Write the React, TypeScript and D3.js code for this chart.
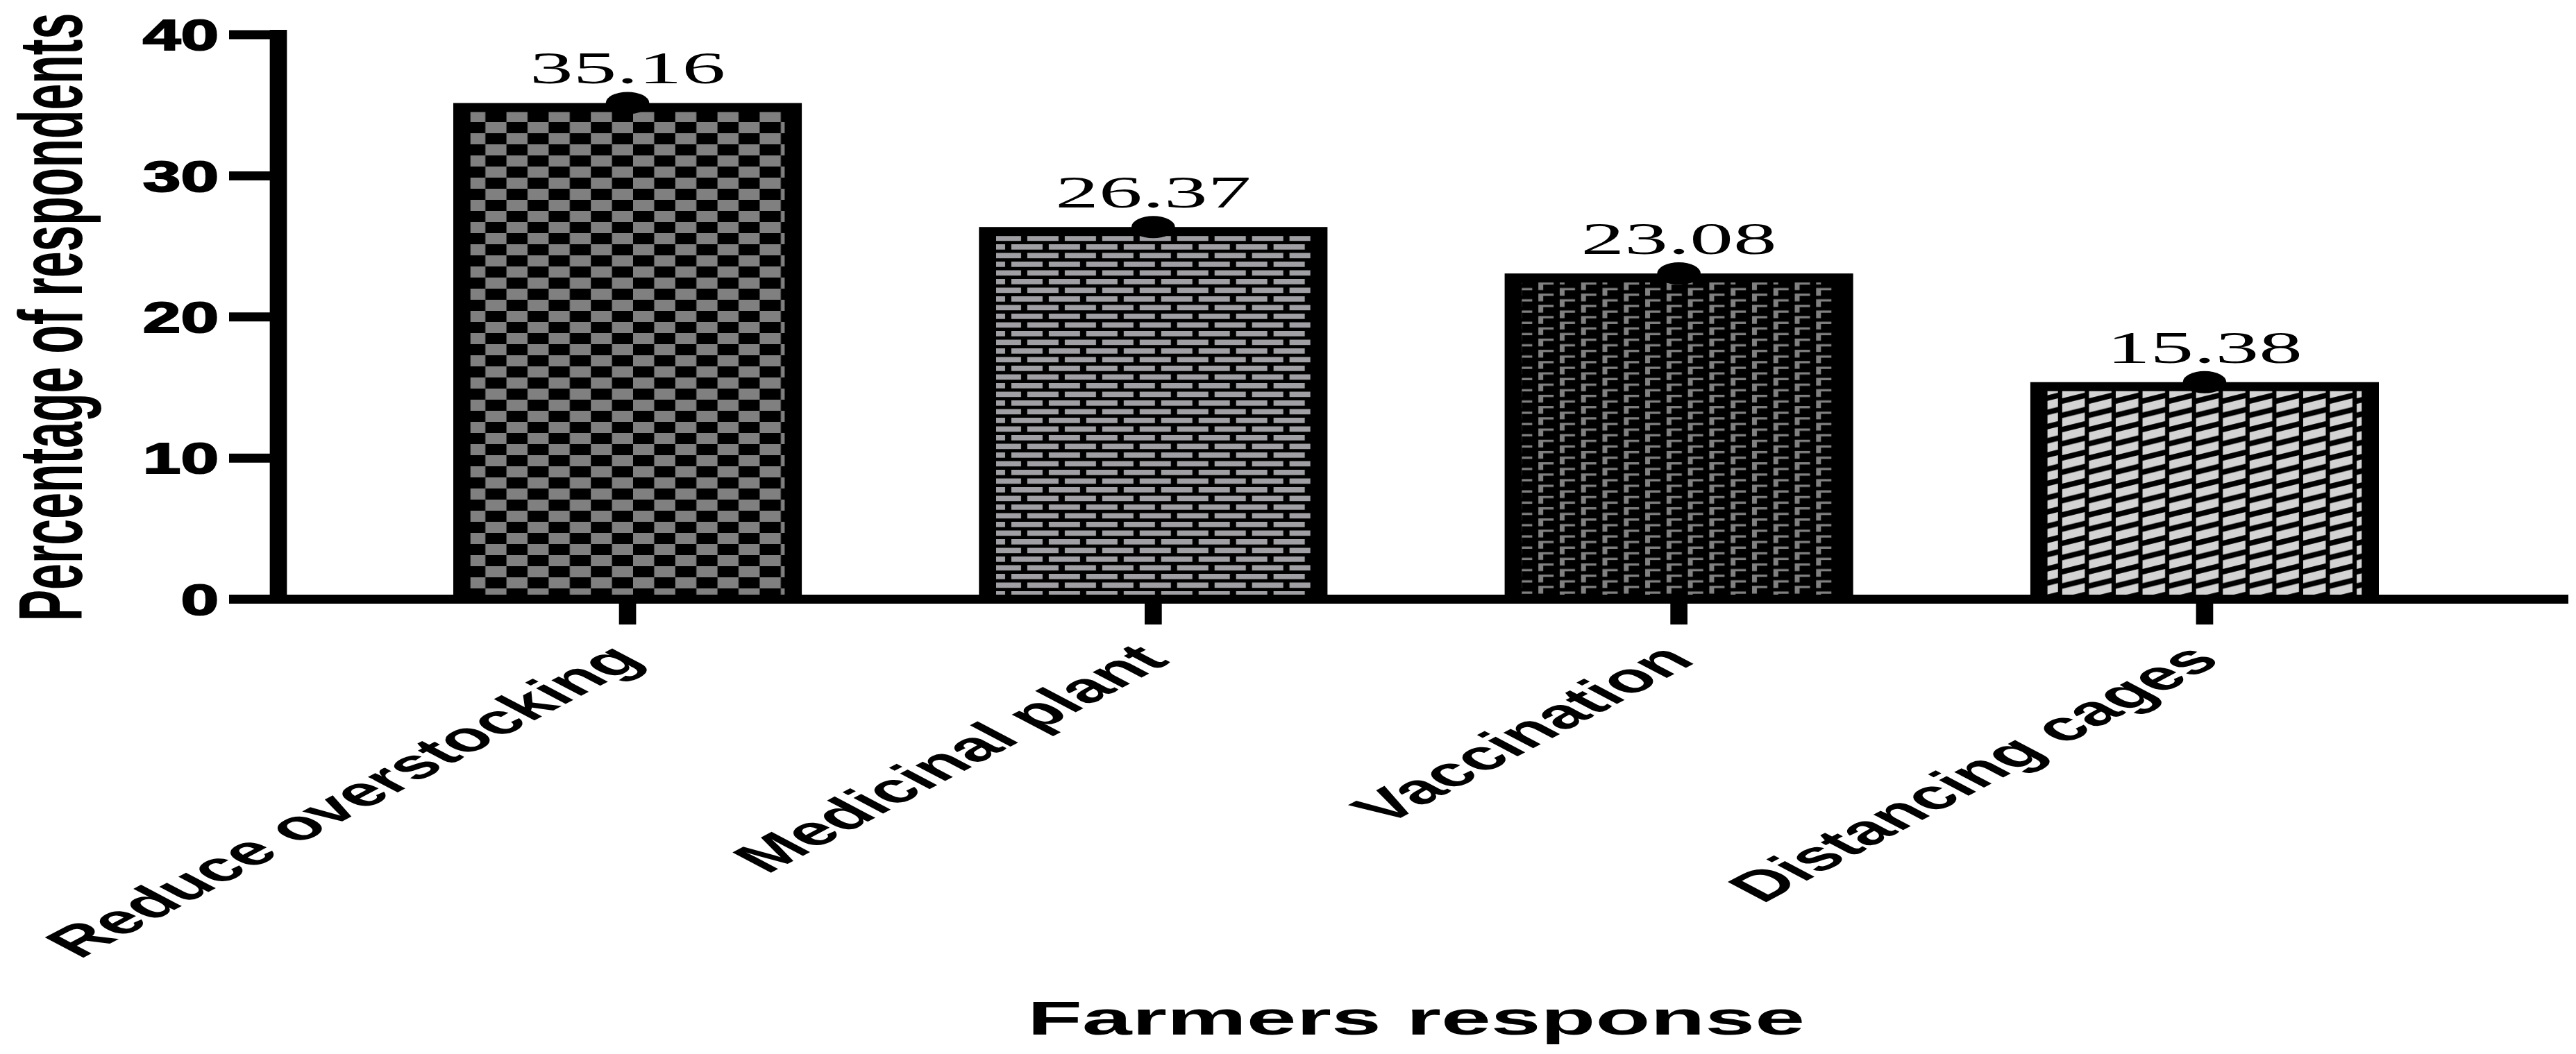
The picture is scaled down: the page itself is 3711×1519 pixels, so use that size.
import React from 'react';
import * as d3 from 'd3';

// ---- data ----
const categories = ['Reduce overstocking', 'Medicinal plant', 'Vaccination', 'Distancing cages'];
const values = [35.16, 26.37, 23.08, 15.38];
const valueLabels = ['35.16', '26.37', '23.08', '15.38'];
const yTicks = [0, 10, 20, 30, 40];
const patternIds = ['pChecker', 'pBrick', 'pCorner', 'pSlant'];
const yTitle = 'Percentage of respondents';
const xTitle = 'Farmers response';

// ---- layout ----
const W = 3711;
const H = 1519;
const S = 1.9; // horizontal stretch of the original figure
const IW = W / S;
const SANS = '"Liberation Sans", Arial, sans-serif';
const SERIF = '"Liberation Serif", "Times New Roman", serif';

export default function App() {
  const x = d3
    .scaleBand<string>()
    .domain(categories)
    .range([653 / S, 3427 / S])
    .paddingInner(0.337)
    .paddingOuter(0);
  const y = d3.scaleLinear().domain([0, 40]).range([863.5, 50]);
  const bw = x.bandwidth();
  const sw = 13;
  const axisX = 401 / S;

  return (
    <svg
      width={W}
      height={H}
      viewBox={`0 0 ${IW} ${H}`}
      preserveAspectRatio="none"
      style={{ position: 'absolute', left: 0, top: 0, background: '#fff' }}
    >
      <defs>
        <pattern id="pChecker" patternUnits="userSpaceOnUse" width={32} height={32}>
          <rect width={32} height={32} fill="#000" />
          <rect x={0} y={0} width={16} height={16} fill="#808080" />
          <rect x={16} y={16} width={16} height={16} fill="#808080" />
        </pattern>
        <pattern id="pBrick" patternUnits="userSpaceOnUse" width={28.4} height={25}>
          <rect width={28.4} height={25} fill="#000" />
          <rect x={0} y={2} width={23.7} height={7.7} fill="#a0a0a4" />
          <rect x={12.1} y={14.5} width={23.7} height={7.7} fill="#a0a0a4" />
          <rect x={12.1 - 28.4} y={14.5} width={23.7} height={7.7} fill="#a0a0a4" />
        </pattern>
        <pattern id="pCorner" patternUnits="userSpaceOnUse" width={32.4} height={16.2}>
          <rect width={32.4} height={16.2} fill="#000" />
          <path d="M0,2 h11.6 v3.3 h-7.9 v7.7 h-3.7 Z" fill="#808080" />
          <path d="M16.2,10.1 h11.6 v3.3 h-7.9 v7.7 h-3.7 Z" fill="#808080" />
          <path d="M16.2,-6.1 h11.6 v3.3 h-7.9 v7.7 h-3.7 Z" fill="#808080" />
        </pattern>
        <pattern id="pSlant" patternUnits="userSpaceOnUse" width={20.3} height={20.5}>
          <rect width={20.3} height={20.5} fill="#000" />
          <path d="M0.5,8 L17.6,0 L17.6,12.5 L0.5,20.5 Z" fill="#d3d3d3" />
        </pattern>
      </defs>

      {/* bars */}
      {categories.map((c, i) => {
        const x0 = x(c) as number;
        const yv = y(values[i]);
        return (
          <rect
            key={c}
            x={x0 + sw / 2}
            y={yv + sw / 2}
            width={bw - sw}
            height={y(0) - yv - sw / 2}
            fill={`url(#${patternIds[i]})`}
            stroke="#000"
            strokeWidth={sw}
          />
        );
      })}

      {/* dots at bar tops */}
      {categories.map((c, i) => (
        <ellipse
          key={`d${c}`}
          cx={(x(c) as number) + bw / 2}
          cy={y(values[i])}
          rx={16.5}
          ry={16}
          fill="#000"
        />
      ))}

      {/* value labels */}
      {categories.map((c, i) => (
        <text
          key={`v${c}`}
          x={(x(c) as number) + bw / 2}
          y={y(values[i]) - 28}
          textAnchor="middle"
          fontFamily={SERIF}
          fontSize={66}
          fill="#000"
        >
          {valueLabels[i]}
        </text>
      ))}

      {/* y axis */}
      <line x1={axisX} x2={axisX} y1={y(40) - 7} y2={y(0) + 6.5} stroke="#000" strokeWidth={sw} />
      {yTicks.map((t) => (
        <g key={`t${t}`}>
          <line x1={330 / S} x2={axisX} y1={y(t)} y2={y(t)} stroke="#000" strokeWidth={sw} />
          <text
            transform={`translate(${315 / S},${y(t)}) scale(0.82,1)`}
            textAnchor="end"
            dominantBaseline="central"
            fontFamily={SANS}
            fontWeight="bold"
            fontSize={63}
            fill="#000"
            stroke="#000"
            strokeWidth={2}
          >
            {t}
          </text>
        </g>
      ))}

      {/* x axis */}
      <line x1={333 / S} x2={3700 / S} y1={y(0)} y2={y(0)} stroke="#000" strokeWidth={sw} />
      {categories.map((c) => {
        const cx = (x(c) as number) + bw / 2;
        return (
          <g key={`xt${c}`}>
            <line x1={cx} x2={cx} y1={y(0) + 6.5} y2={900} stroke="#000" strokeWidth={sw} />
            <text
              transform={`translate(${cx + 26 / S},954) rotate(-45)`}
              textAnchor="end"
              fontFamily={SANS}
              fontWeight="bold"
              fontSize={60}
              fill="#000"
            >
              {c}
            </text>
          </g>
        );
      })}

      {/* axis titles */}
      <text
        transform={`translate(${118 / S},457) rotate(-90)`}
        textAnchor="middle"
        fontFamily={SANS}
        fontWeight="bold"
        fontSize={68}
        fill="#000"
      >
        {yTitle}
      </text>
      <text
        x={2040 / S}
        y={1491}
        textAnchor="middle"
        fontFamily={SANS}
        fontWeight="bold"
        fontSize={68}
        fill="#000"
      >
        {xTitle}
      </text>
    </svg>
  );
}
